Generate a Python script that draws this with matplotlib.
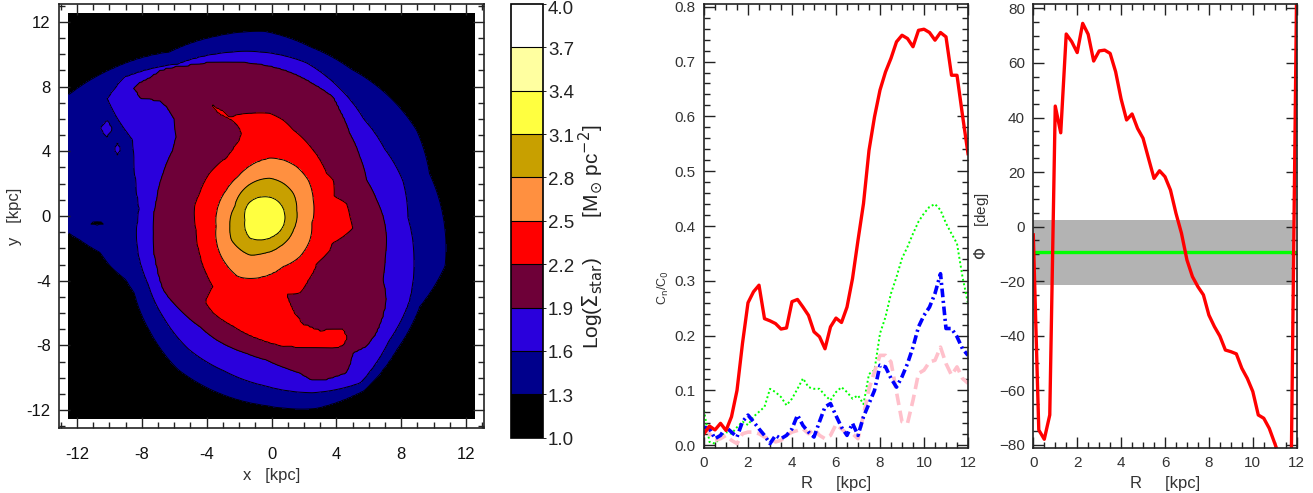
import numpy as np
import matplotlib
matplotlib.use("Agg")
import matplotlib.pyplot as plt
from matplotlib.colors import ListedColormap, BoundaryNorm
from matplotlib.ticker import MultipleLocator, FuncFormatter

# ---------------------------------------------------------------- map data
levels = [1.0, 1.3, 1.6, 1.9, 2.2, 2.5, 2.8, 3.1, 3.4, 3.7, 4.0]
band_colors = ['#000000', '#00008c', '#2a00dc', '#6e0038', '#ff0000',
               '#ff9040', '#c8a000', '#ffff40', '#ffffa0', '#ffffff']
centre = (-0.4, -0.1)

# radius (kpc) of each iso-density contour versus position angle (deg)
ang_31 = [12.5, 57, 95, 140, 187, 233.7, 257, 293, 333.4]
rad_31 = [1.25, 1.3, 1.3, 1.36, 1.26, 1.59, 1.42, 1.27, 1.25]

ang_28 = [13.6, 40.8, 62, 83, 121, 160, 194.5, 213.7, 247.8, 267, 297, 336.4]
rad_28 = [2.0, 2.3, 2.4, 2.45, 2.22, 1.98, 2.24, 2.49, 2.49, 2.2, 2.0, 1.9]

ang_25 = [20.2, 41, 58.4, 72.5, 85.3, 104.3, 123.3, 144.5, 166.8, 190.5,
          221.8, 245.5, 256, 268, 290.3, 311.7, 333.5, 353]
rad_25 = [3.16, 3.53, 3.7, 3.73, 3.67, 3.35, 3.03, 2.92, 2.97, 3.05,
          3.61, 4.0, 3.86, 3.64, 3.22, 3.23, 3.09, 2.89]

ang_22 = [0, 9.9, 17, 28.9, 35.8, 43.8, 57.6, 72.2, 79.5, 87.3, 97, 102,
          105.6, 108, 117, 123, 141.3, 159.5, 171, 190, 208.7, 223.6, 233,
          234.4, 241.6, 253.7, 267.6, 278, 283, 285.7, 294.8, 304.6, 318.4,
          333.5, 338.9, 347, 353]
rad_22 = [5.25, 5.1, 4.45, 4.8, 4.67, 4.84, 5.19, 5.68, 6.13, 6.45, 6.5, 6.45,
          5.4, 5.04, 4.55, 4.37, 4.37, 4.29, 4.39, 4.3, 4.58, 4.99, 5.33,
          6.38, 6.72, 7.01, 7.56, 8.04, 8.0, 4.87, 5.12, 4.68, 4.25,
          4.47, 4.4, 5.0, 5.45]

ang_19 = [0.5, 9, 20.3, 32.7, 44.8, 55.2, 60.6, 70.3, 80.4, 89.5, 101.6,
          108.4, 117.2, 124, 128, 131.6, 132.5, 137.6, 143.7, 156.5, 170.8,
          187.9, 204.3, 215.4, 227.3, 239.2, 248.3, 262.2, 270.6, 278, 282.6,
          285.5, 290.7, 297.6, 299.6, 303, 308.2, 313.9, 320, 325.9, 332.2,
          340.6, 351]
rad_19 = [7.29, 6.97, 6.68, 6.96, 7.38, 8.09, 8.57, 8.8, 9.14, 9.42, 9.82,
          10.14, 10.6, 10.87, 10.2, 9.16, 8.3, 7.41, 7.04, 6.86, 6.79,
          6.98, 7.35, 7.72, 7.76, 7.84, 8.12, 8.46, 8.79, 9.4, 9.85,
          10.4, 10.72, 10.85, 10.58, 9.99, 10.13, 9.92, 9.51, 9.06, 8.24,
          7.85, 7.59]

ang_16 = [0, 15, 30, 45, 60, 75, 90, 105, 120, 135, 143, 146, 149.5, 155,
          165, 176, 195, 210, 225, 240, 255, 270, 285, 300, 315, 330, 345]
rad_16 = [8.8, 8.8, 8.5, 8.6, 9.2, 9.9, 10.2, 10.5, 10.9, 12.3, 12.2, 11.0,
          9.45, 8.9, 8.2, 7.74, 8.1, 8.3, 8.8, 9.4, 9.8, 10.4, 11.2, 11.8,
          10.8, 10.3, 9.5]

ang_13 = [0, 15, 30, 45, 60, 75, 90, 105, 120, 135, 150, 165, 180, 184.6,
          187, 192, 197.5, 204, 210, 225, 240, 255, 270, 285, 300, 315, 330,
          345]
rad_13 = [11.0, 10.5, 10.8, 10.7, 10.6, 10.9, 11.5, 11.6, 11.8, 13.1, 14.5,
          14.5, 13.0, 12.15, 11.5, 10.4, 10.0, 9.4, 9.3, 10.0, 10.8, 11.2,
          11.6, 12.2, 12.3, 11.5, 11.0, 11.5]

# narrow features traced along x: edges (kpc) of the red arm and tongue
# and of the maroon spur in the upper left
arm_x = [0.5, 0.93, 1.34, 1.95, 2.98, 3.8, 4.42, 4.73]
arm_top = [-4.5, -4.88, -5.8, -6.63, -7.04, -6.95, -6.93, -7.55]
arm_bot = [-8.05, -8.07, -8.12, -8.17, -8.21, -8.23, -8.07, -7.55]

tongue_x = [-3.81, -3.4, -2.98, -2.57, -2.16, -1.85, -1.2]
tongue_top = [7.0, 6.75, 6.54, 6.13, 6.28, 6.34, 6.35]
tongue_bot = [7.0, 6.4, 6.13, 5.93, 5.68, 5.1, 4.5]

spur_x = [-8.54, -8.13, -7.51, -6.89, -6.48, -5.97, -5.5]
spur_top = [7.94, 8.29, 8.6, 9.0, 9.15, 9.25, 9.3]
spur_bot = [7.94, 7.26, 7.16, 7.06, 6.75, 6.13, 5.0]

# small clumps in the outer disc (x edges, y top, y bottom)
islet_x = [-10.6, -10.15, -9.75]
islet_top = [5.4, 6.0, 5.4]
islet_bot = [5.4, 4.8, 5.4]
islet2_x = [-9.75, -9.5, -9.25]
islet2_top = [4.15, 4.55, 4.15]
islet2_bot = [4.15, 3.75, 4.15]
hole_x = [-11.3, -10.75, -10.2]
hole_top = [-0.45, -0.28, -0.45]
hole_bot = [-0.45, -0.62, -0.45]

# ------------------------------------------------------------ profile data
radius = np.linspace(0.0, 12.0, 49)
cn_red = [0.021, 0.035, 0.028, 0.040, 0.027, 0.052, 0.100, 0.186, 0.260,
          0.280, 0.292, 0.231, 0.227, 0.222, 0.212, 0.214, 0.262, 0.266,
          0.252, 0.237, 0.207, 0.198, 0.176, 0.216, 0.232, 0.224, 0.252,
          0.304, 0.374, 0.441, 0.538, 0.599, 0.648, 0.681, 0.706, 0.736,
          0.748, 0.742, 0.727, 0.757, 0.759, 0.753, 0.739, 0.753, 0.745,
          0.675, 0.675, 0.602, 0.532]
cn_green = [0.064, 0.006, 0.003, 0.015, 0.024, 0.021, 0.033, 0.043, 0.037,
            0.052, 0.061, 0.070, 0.103, 0.097, 0.088, 0.073, 0.085, 0.103,
            0.122, 0.106, 0.103, 0.103, 0.091, 0.082, 0.097, 0.106, 0.097,
            0.085, 0.091, 0.075, 0.130, 0.137, 0.204, 0.234, 0.277, 0.307,
            0.341, 0.362, 0.386, 0.408, 0.423, 0.435, 0.440, 0.429, 0.405,
            0.386, 0.368, 0.307, 0.259]
cn_blue = [0.033, 0.030, 0.012, 0.018, 0.033, 0.024, 0.015, 0.043, 0.055,
           0.043, 0.030, 0.018, 0.003, 0.018, 0.012, 0.018, 0.030, 0.055,
           0.036, 0.024, 0.015, 0.043, 0.070, 0.076, 0.054, 0.033, 0.018,
           0.040, 0.018, 0.052, 0.076, 0.100, 0.146, 0.143, 0.122, 0.106,
           0.125, 0.149, 0.179, 0.216, 0.237, 0.252, 0.277, 0.313, 0.213,
           0.213, 0.198, 0.176, 0.164]
cn_pink = [0.033, 0.021, 0.009, 0.012, 0.018, 0.009, 0.003, 0.021, 0.024,
           0.024, 0.021, 0.015, 0.012, 0.006, 0.009, 0.018, 0.024, 0.027,
           0.030, 0.021, 0.030, 0.018, 0.012, 0.018, 0.038, 0.030, 0.021,
           0.021, 0.012, 0.055, 0.103, 0.134, 0.164, 0.164, 0.152, 0.097,
           0.043, 0.040, 0.082, 0.131, 0.137, 0.152, 0.155, 0.179, 0.149,
           0.128, 0.143, 0.122, 0.113]
phase = [-3.0, -74.5, -77.9, -69.0, 44.2, 34.4, 70.6, 67.8, 63.8, 74.5, 70.5,
         60.7, 64.4, 64.7, 63.5, 56.8, 46.8, 39.1, 41.3, 36.0, 32.4, 25.0,
         17.7, 20.5, 18.3, 13.4, 4.9, -2.4, -12.2, -18.3, -22.0, -25.0, -32.4,
         -36.6, -40.1, -45.2, -45.8, -46.6, -51.9, -55.6, -60.4, -69.0, -70.2,
         -73.9, -79.4, -85.0, -88.0, -89.0, 89.0]
bar_angle = -9.4
bar_angle_err = 11.8
bar_extent = 11.85

# ------------------------------------------------------------- field build
def radial_field(xx, yy):
    dx, dy = xx - centre[0], yy - centre[1]
    rr = np.hypot(dx, dy)
    th = np.degrees(np.arctan2(dy, dx)) % 360.0
    sets = [(ang_31, rad_31), (ang_28, rad_28), (ang_25, rad_25),
            (ang_22, rad_22), (ang_19, rad_19), (ang_16, rad_16),
            (ang_13, rad_13)]
    radii = np.array([np.interp(th, a, r, period=360.0) for a, r in sets])
    radii = np.maximum.accumulate(radii, axis=0)
    knots = np.concatenate([np.zeros((1,) + th.shape), radii,
                            radii[-1:] + 1.5], axis=0)
    vals = [3.35, 3.1, 2.8, 2.5, 2.2, 1.9, 1.6, 1.3, 1.05]
    out = np.full(rr.shape, 1.05)
    for i in range(len(vals) - 1):
        lo, hi = knots[i], knots[i + 1]
        m = (rr >= lo) & (rr < hi)
        t = (rr - lo) / np.maximum(hi - lo, 1e-6)
        out[m] = (vals[i] + t * (vals[i + 1] - vals[i]))[m]
    return out


def strip_field(xx, yy, xs, top, bot, level):
    t = np.interp(xx, xs, top)
    b = np.interp(xx, xs, bot)
    d = np.minimum(t - yy, yy - b)
    d = np.minimum(d, np.minimum(xx - xs[0], xs[-1] - xx))
    return np.where(d >= 0, level + 0.2 * np.clip(d, 0, 0.5), level + 4.0 * d)


gx = np.linspace(-12.5, 12.5, 201)
GX, GY = np.meshgrid(gx, gx)
field = radial_field(GX, GY)
field = np.maximum(field, strip_field(GX, GY, arm_x, arm_top, arm_bot, 2.2))
field = np.maximum(field, strip_field(GX, GY, tongue_x, tongue_top,
                                      tongue_bot, 2.2))
field = np.maximum(field, strip_field(GX, GY, spur_x, spur_top, spur_bot, 1.9))
field = np.maximum(field, strip_field(GX, GY, islet_x, islet_top,
                                      islet_bot, 1.6))
field = np.maximum(field, strip_field(GX, GY, islet2_x, islet2_top,
                                      islet2_bot, 1.6))
field = np.minimum(field, 2.6 - strip_field(GX, GY, hole_x, hole_top,
                                            hole_bot, 1.3))

# ------------------------------------------------------------------ figure
plt.rcParams['font.family'] = ['Liberation Sans', 'DejaVu Sans']
plt.rcParams['mathtext.fontset'] = 'dejavusans'
fig = plt.figure(figsize=(13.13, 4.93), dpi=100)
W, H = 1313.0, 493.0


def box(x0, y0, x1, y1):
    return [x0 / W, 1 - y1 / H, (x1 - x0) / W, (y1 - y0) / H]


def style(ax, xmaj, xmin, ymaj, ymin, col, xpad=6):
    ax.xaxis.set_major_locator(MultipleLocator(xmaj))
    ax.xaxis.set_minor_locator(MultipleLocator(xmin))
    ax.yaxis.set_major_locator(MultipleLocator(ymaj))
    ax.yaxis.set_minor_locator(MultipleLocator(ymin))
    ax.tick_params(which='both', direction='in', top=True, right=True,
                   colors='#222222', labelcolor=col, labelsize=11, width=1.0)
    ax.tick_params(which='major', length=8, pad=6)
    ax.tick_params(axis='x', which='major', pad=xpad)
    ax.tick_params(which='minor', length=4)
    for s in ax.spines.values():
        s.set_linewidth(1.2)
        s.set_color('#222222')


cmap = ListedColormap(band_colors)
norm = BoundaryNorm(levels, cmap.N)

ax1 = fig.add_axes(box(59, 4, 484, 428))
cf = ax1.contourf(GX, GY, field, levels=levels, cmap=cmap, norm=norm)
ax1.contour(GX, GY, field, levels=levels[1:8], colors='k', linewidths=0.7)
ax1.set_xlim(-13.1, 13.1)
ax1.set_ylim(-13.1, 13.1)
style(ax1, 4, 1, 4, 1, '#111111', xpad=14)
fmt_int = FuncFormatter(lambda v, p: '%d' % round(v))
ax1.xaxis.set_major_formatter(fmt_int)
ax1.yaxis.set_major_formatter(fmt_int)
for lab in ax1.get_xticklabels() + ax1.get_yticklabels():
    lab.set_fontsize(12)
ax1.set_xlabel('x   [kpc]', fontsize=12, color='#333333', labelpad=4)
ax1.set_ylabel('y   [kpc]', fontsize=12, color='#333333', labelpad=3)

# colour bar: bands with level values written beside each boundary
cax = fig.add_axes(box(510.7, 4, 543.3, 437.7))
cb = fig.colorbar(cf, cax=cax, ticks=[], drawedges=True)
cb.outline.set_linewidth(1.2)
cb.dividers.set_linewidth(0.8)
for v in levels:
    ypx = 437.7 - (v - levels[0]) / (levels[-1] - levels[0]) * 433.7 + 3
    ypx = max(ypx, 9)
    fig.text(548 / W, 1 - ypx / H, '%.1f' % v, ha='left', va='center',
             fontsize=13.5, color='#222222')
fig.text(591 / W, 1 - 237 / H,
         r'Log($\Sigma_{\rm star}$)       [M$_{\odot}$ pc$^{-2}$]',
         rotation=90, ha='center', va='center', fontsize=15, color='#222222')

ax2 = fig.add_axes(box(704, 4, 968, 448))
ax2.plot(radius, cn_green, color='#00ff00', lw=1.4, ls=(0, (1, 1.3)))
ax2.plot(radius, cn_pink, color='#ffc0cb', lw=2.6, ls=(0, (3.2, 1.6)))
ax2.plot(radius, cn_blue, color='#0000ff', lw=2.6, ls=(0, (2.4, 1.0, 0.6, 1.0)))
ax2.plot(radius, cn_red, color='#ff0000', lw=2.4)
ax2.set_xlim(0, 12)
ax2.set_ylim(-0.005, 0.805)
style(ax2, 2, 0.5, 0.1, 0.02, '#333333')
ax2.yaxis.set_major_formatter(FuncFormatter(lambda v, p: '%.1f' % v))
ax2.set_xlabel('R     [kpc]', fontsize=12, color='#333333', labelpad=4)
ax2.set_ylabel(r'C$_{\rm n}$/C$_0$', fontsize=9, color='#333333')
ax2.yaxis.set_label_coords(-0.125, 0.36)

ax3 = fig.add_axes(box(1033.3, 4, 1296.7, 448))
ax3.fill_between([0, bar_extent], bar_angle - bar_angle_err,
                 bar_angle + bar_angle_err, color='#b3b3b3', lw=0)
ax3.axhline(bar_angle, color='#00ff00', lw=2.4)
ax3.plot(radius, phase, color='#ff0000', lw=2.4)
ax3.set_xlim(0, 12)
ax3.set_ylim(-81.1, 81.6)
style(ax3, 2, 0.5, 20, 5, '#333333')
ax3.set_xlabel('R     [kpc]', fontsize=12, color='#333333', labelpad=4)
ax3.set_ylabel(r'$\Phi$     [deg]', fontsize=11, color='#333333', labelpad=6)

fig.savefig('out.png', dpi=100)
